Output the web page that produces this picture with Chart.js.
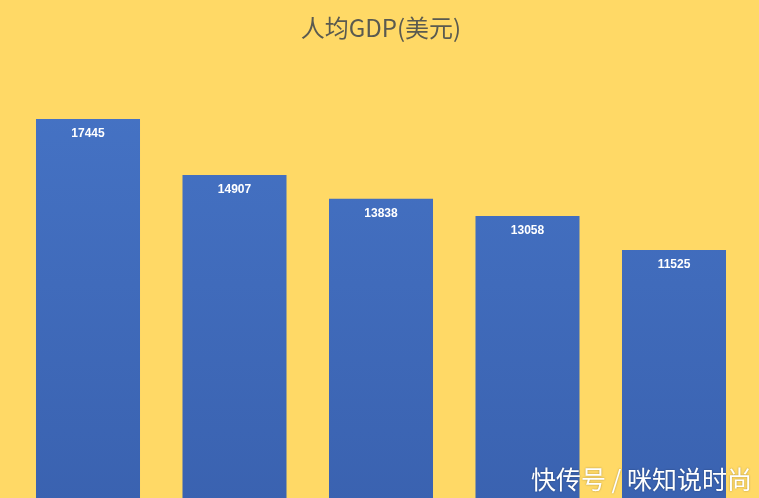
<!DOCTYPE html>
<html>
<head>
<meta charset="utf-8">
<script src="https://cdn.jsdelivr.net/npm/chart.js@4"></script>
<style>
  html, body { margin:0; padding:0; width:759px; height:498px; overflow:hidden; background:#FFD966; }
  #wrap { position:relative; width:759px; height:505px; }
  #wm { position:absolute; right:7px; top:463px; font-family:"Noto Sans CJK SC", sans-serif; font-size:25px; line-height:30px; color:#ffffff; text-shadow:0 0 2px rgba(0,0,0,0.35); white-space:pre; }
</style>
</head>
<body>
<div id="wrap">
  <canvas id="c" width="759" height="505"></canvas>
  <div id="wm">快传号 / 咪知说时尚</div>
</div>
<script>
const categories = ["1", "2", "3", "4", "5"];
const gdpValues = [17445, 14907, 13838, 13058, 11525];
const titleText = "人均GDP(美元)";

const labelPlugin = {
  id: 'barLabels',
  afterDatasetsDraw(chart) {
    const ctx = chart.ctx;
    const meta = chart.getDatasetMeta(0);
    ctx.save();
    ctx.fillStyle = '#ffffff';
    ctx.font = 'bold 12px "Liberation Sans", sans-serif';
    ctx.textAlign = 'center';
    ctx.textBaseline = 'middle';
    meta.data.forEach((bar, i) => {
      ctx.fillText(String(gdpValues[i]), bar.x, bar.y + 15);
    });
    ctx.restore();
  }
};

new Chart(document.getElementById('c'), {
  type: 'bar',
  data: {
    labels: categories,
    datasets: [{
      data: gdpValues,
      borderWidth: 0,
      barPercentage: 0.71,
      categoryPercentage: 1,
      backgroundColor: (context) => {
        const chart = context.chart;
        const area = chart.chartArea;
        if (!area) return '#4472C4';
        const g = chart.ctx.createLinearGradient(0, area.top, 0, area.bottom);
        g.addColorStop(0, '#4674C6');
        g.addColorStop(1, '#3A62B0');
        return g;
      }
    }]
  },
  options: {
    responsive: false,
    animation: false,
    layout: { padding: { left: 14.75, right: 11.75, top: 0, bottom: 0 } },
    plugins: {
      legend: { display: false },
      tooltip: { enabled: false },
      title: {
        display: true,
        text: titleText,
        color: '#5A5A50',
        font: { family: '"Noto Sans CJK SC", sans-serif', size: 24, weight: 'normal', lineHeight: 1.2 },
        padding: { top: 13, bottom: 20.6 }
      }
    },
    scales: {
      x: { display: false, grid: { display: false } },
      y: { display: false, min: 0, max: 20000, grid: { display: false } }
    }
  },
  plugins: [labelPlugin]
});
</script>
</body>
</html>
